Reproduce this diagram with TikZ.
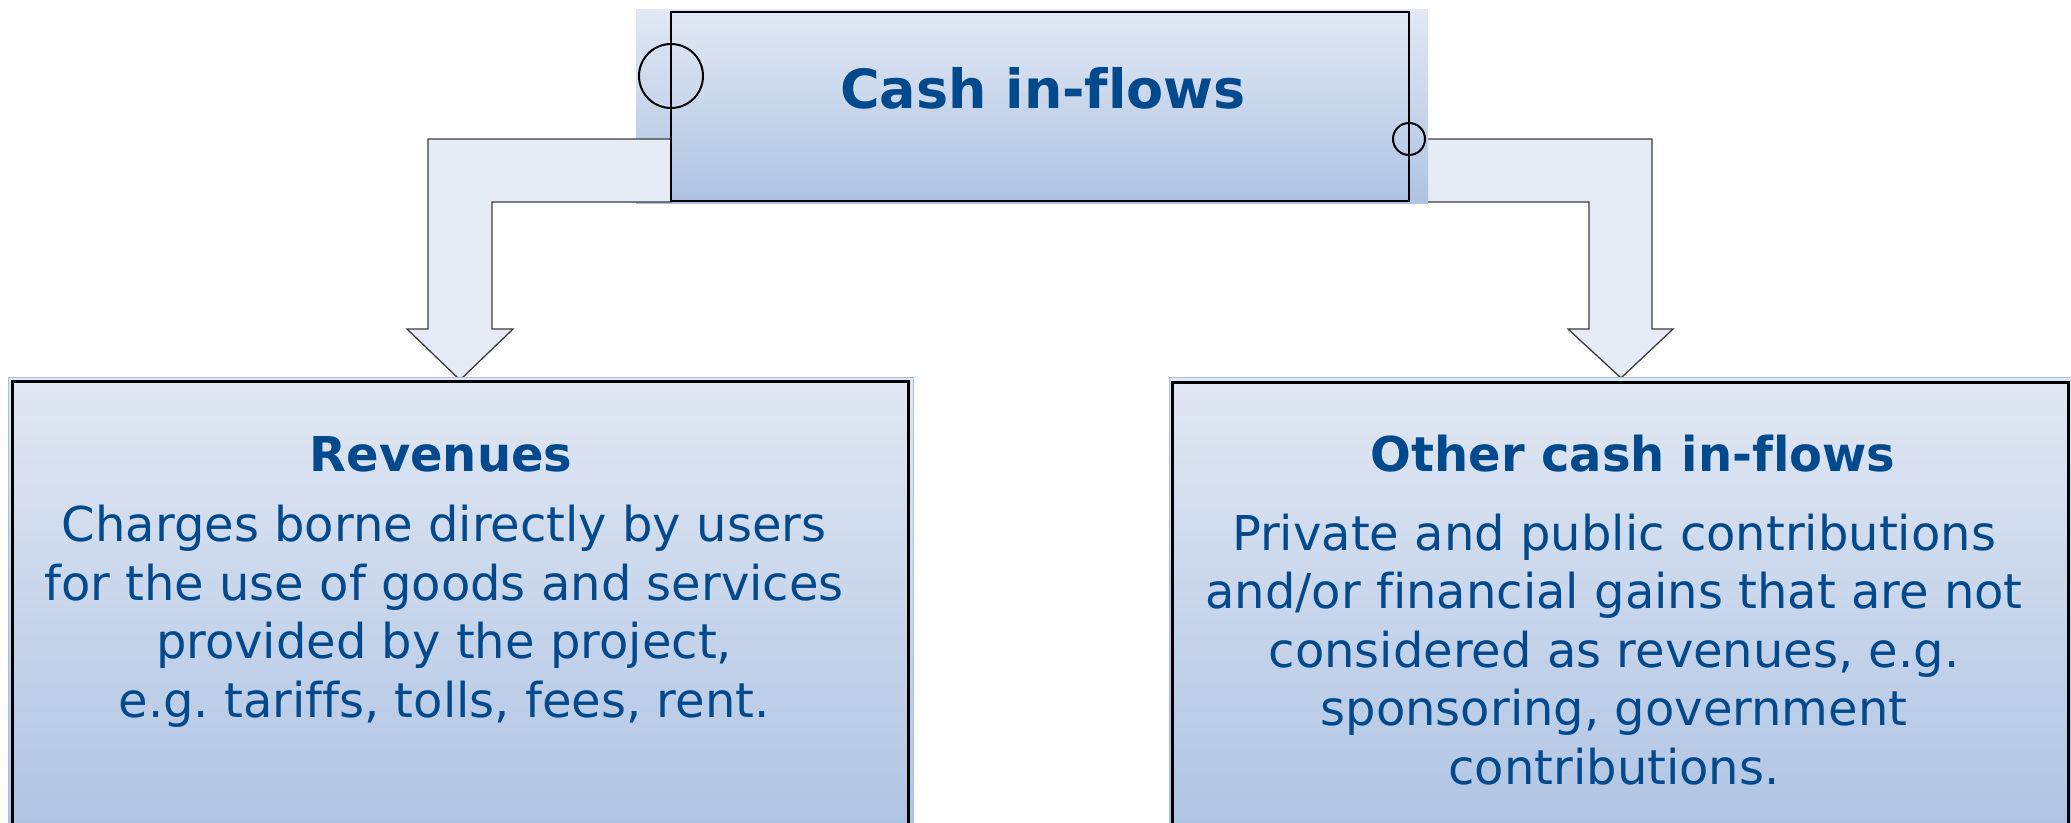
\documentclass[tikz,border=0pt]{standalone}
\usepackage{fontspec}
\setmainfont[Ligatures=NoCommon]{DejaVu Sans}
\frenchspacing
\definecolor{txt}{RGB}{0,73,140}
\definecolor{gtop}{RGB}{226,232,243}
\definecolor{gbot}{RGB}{174,195,227}
\definecolor{arrfill}{RGB}{230,236,246}
\definecolor{arredge}{RGB}{60,60,60}
\definecolor{glow}{RGB}{170,190,225}
\tikzset{
  grad/.style={top color=gtop,bottom color=gbot},
  blockarrow/.style={fill=arrfill,draw=arredge,line width=1.3pt,line join=miter},
  boxline/.style={draw=black,inner sep=0pt,outer sep=0pt,anchor=north west},
  ring/.style={draw=black,line width=2pt,circle,inner sep=0pt,outer sep=0pt},
  bigtitle/.style={text=txt,font=\fontsize{54}{64}\selectfont\bfseries,inner sep=0pt,anchor=base},
  subtitle/.style={text=txt,font=\fontsize{48}{58}\selectfont\bfseries,inner sep=0pt,anchor=base},
  bodytext/.style={text=txt,font=\fontsize{48}{58.5}\selectfont\frenchspacing,inner sep=0pt,align=center,anchor=base},
}
\begin{document}
\begin{tikzpicture}[x=1pt,y=-1pt]
\useasboundingbox (0,0) rectangle (2071,822);
\clip (0,0) rectangle (2071,822);
% right block arrow (below the glow of the top box)
\draw[blockarrow] (1409,139) -- (1652,139) -- (1652,329) -- (1673,329) -- (1621,378)
   -- (1568,329) -- (1589,329) -- (1589,202) -- (1409,202) -- cycle;
% glow behind top box
\path[grad] (636,9) rectangle (1428,203);
% left block arrow
\draw[blockarrow] (671,139) -- (428,139) -- (428,329) -- (407,329) -- (460,380)
   -- (513,329) -- (492,329) -- (492,202) -- (671,202) -- cycle;
% top box
\node[boxline,grad,line width=2.5pt,minimum width=738pt,minimum height=189pt] (top) at (671,12) {};
\node[ring,minimum size=64pt] (c1) at (671,76) {};
\node[ring,minimum size=32pt] (c2) at (1409,139) {};
\node[bigtitle] (toptext) at (1043,108) {Cash in-flows};
% bottom boxes
\path[grad,draw=glow,line width=1pt] (8,377) rectangle (913,840);
\node[boxline,line width=3pt,minimum width=896pt,minimum height=460pt] (rev) at (12,381) {};
\path[grad,draw=glow,line width=1pt] (1169,377) rectangle (2075,840);
\node[boxline,line width=3pt,minimum width=896pt,minimum height=460pt] (oth) at (1172,382) {};
% texts
\node[subtitle] (revtitle) at (441,471) {Revenues};
\node[bodytext] (revbody) at (444,717) {Charges borne directly by users\\for the use of goods and services\\provided by the project,\\e.g. tariffs, tolls, fees, rent.};
\node[subtitle] (othtitle) at (1633,471) {Other cash in-flows};
\node[bodytext] (othbody) at (1614,784) {Private and public contributions\\and/or financial gains that are not\\considered as revenues, e.g.\\sponsoring, government\\contributions.};
\end{tikzpicture}
\end{document}
